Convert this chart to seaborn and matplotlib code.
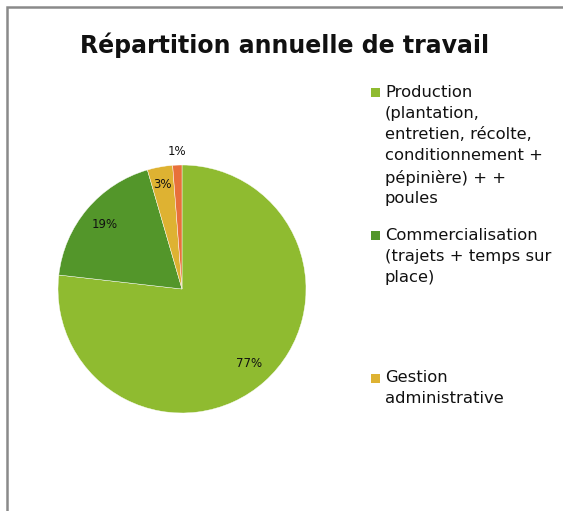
import numpy as np
import seaborn as sns
import matplotlib.pyplot as plt
from matplotlib.patches import Rectangle

# Data (percent of annual work time)
categories = ["Production\n(plantation,\nentretien, récolte,\nconditionnement +\npépinière) + +\npoules",
              "Commercialisation\n(trajets + temps sur\nplace)",
              "Gestion\nadministrative",
              "Autre"]
shares = [76.8, 18.7, 3.3, 1.2]
colors = ["#8fbb30", "#53962a", "#deb232", "#e8703a"]
legend_rows = [93, 236, 378]   # pixel y of each legend square (only 3 shown)

sns.set_theme(style="white")
plt.rcParams['font.family'] = ['DejaVu Sans']

W, H = 563, 511
fig = plt.figure(figsize=(W / 100, H / 100), dpi=100)
fig.patch.set_facecolor("white")

# pie centre (182, 289) px, radius 124 px
cx, cy, r = 182, 289, 124
ax = fig.add_axes([(cx - r) / W, (H - cy - r) / H, 2 * r / W, 2 * r / H])
wedges, texts, autotexts = ax.pie(shares, colors=colors, startangle=90, counterclock=False,
                                  autopct="%.0f%%", pctdistance=0.81,
                                  wedgeprops=dict(linewidth=0.3, edgecolor="white"),
                                  textprops=dict(fontsize=8.5, color="#111111"))
ax.set_xlim(-1, 1)
ax.set_ylim(-1, 1)
ax.set_aspect("equal")
ax.axis("off")

# small slices: labels further out
autotexts[2].set_position((-0.16, 0.84))
autotexts[3].set_position((-0.04, 1.11))

# title
fig.text(285 / W, 1 - 45 / H, "Répartition annuelle de travail",
         ha="center", va="center", fontsize=17, fontweight="bold", color="#111111")

# legend drawn by hand (entries evenly spaced like the original)
for lab, col, y in zip(categories[:3], colors[:3], legend_rows):
    fig.add_artist(Rectangle((371 / W, 1 - (y + 4.5) / H), 9 / W, 9 / H,
                             transform=fig.transFigure, facecolor=col, edgecolor="none"))
    fig.text(385 / W, 1 - (y - 8) / H, lab, ha="left", va="top",
             fontsize=11.8, color="#111111", linespacing=1.5)

# chart frame (only left and top edges visible in the crop)
fig.add_artist(Rectangle((6.5 / W, -0.1), 2.0, (H - 7.5) / H + 0.1,
                         transform=fig.transFigure, fill=False,
                         edgecolor="#8a8a8a", linewidth=1.8, clip_on=False))

fig.savefig("out.png", dpi=100)
